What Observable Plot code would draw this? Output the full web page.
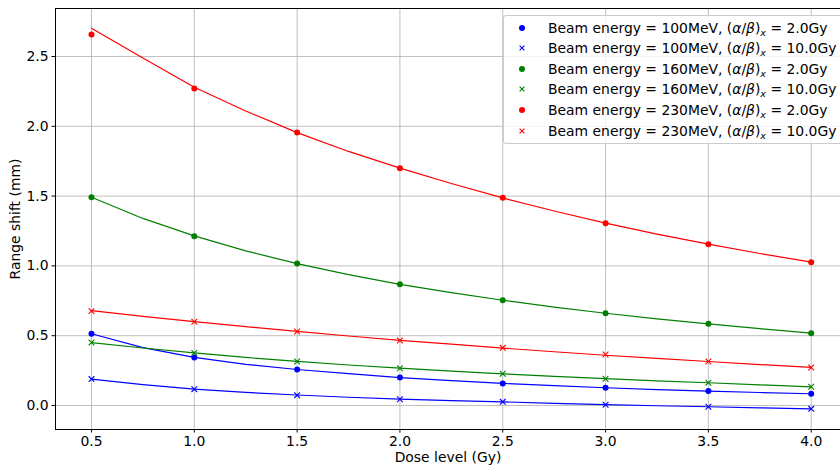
<!DOCTYPE html>
<html><head><meta charset="utf-8">
<script src="https://cdn.jsdelivr.net/npm/d3@7"></script>
<script src="https://cdn.jsdelivr.net/npm/@observablehq/plot@0.6"></script>
<style>
body{margin:0;background:#fff;font-family:"DejaVu Sans",sans-serif;}
#wrap{position:relative;width:840px;height:470px;overflow:hidden;}
#chart{position:absolute;left:0;top:0;}
#legend{position:absolute;left:503px;top:15px;width:345px;height:129px;background:rgba(255,255,255,0.8);border:1px solid #cccccc;border-radius:3px;box-sizing:border-box;font-size:13.9px;color:#000;}
.row{position:absolute;left:0;height:20px;line-height:20px;white-space:nowrap;}
.row svg{position:absolute;left:12px;top:4px;}
.row span.t{position:absolute;left:44px;top:0;}
i{font-style:italic;}
sub{font-size:9.5px;vertical-align:-3px;line-height:0;}
</style>
</head><body>
<div id="wrap"><div id="chart"></div><div id="legend"></div></div>
<script>
// ---- data ----
const doses = [0.5, 1.0, 1.5, 2.0, 2.5, 3.0, 3.5, 4.0];
const fitDoses = [0.5, 0.75, 1.0, 1.25, 1.5, 1.75, 2.0, 2.25, 2.5, 2.75, 3.0, 3.25, 3.5, 3.75, 4.0];

const energies = ["100MeV", "100MeV", "160MeV", "160MeV", "230MeV", "230MeV"];
const alphaBeta = ["2.0Gy", "10.0Gy", "2.0Gy", "10.0Gy", "2.0Gy", "10.0Gy"];
const colors = ["#0000ff", "#0000ff", "#008000", "#008000", "#ff0000", "#ff0000"];
const markers = ["circle", "times", "circle", "times", "circle", "times"];

const pts_100_2  = [0.514, 0.344, 0.258, 0.200, 0.158, 0.127, 0.103, 0.084];
const pts_100_10 = [0.189, 0.117, 0.074, 0.045, 0.026, 0.005, -0.009, -0.024];
const pts_160_2  = [1.492, 1.213, 1.017, 0.869, 0.754, 0.661, 0.585, 0.518];
const pts_160_10 = [0.451, 0.377, 0.315, 0.267, 0.227, 0.191, 0.163, 0.134];
const pts_230_2  = [2.658, 2.271, 1.956, 1.700, 1.488, 1.306, 1.156, 1.027];
const pts_230_10 = [0.676, 0.600, 0.530, 0.466, 0.413, 0.365, 0.315, 0.272];

const fit_100_2  = [0.514, 0.415, 0.345, 0.295, 0.258, 0.228, 0.200, 0.178, 0.158, 0.142, 0.127, 0.114, 0.103, 0.093, 0.084];
const fit_100_10 = [0.189, 0.150, 0.117, 0.094, 0.075, 0.059, 0.046, 0.035, 0.026, 0.015, 0.006, -0.002, -0.009, -0.017, -0.024];
const fit_160_2  = [1.492, 1.340, 1.215, 1.108, 1.016, 0.937, 0.868, 0.808, 0.754, 0.705, 0.661, 0.621, 0.585, 0.550, 0.518];
const fit_160_10 = [0.451, 0.412, 0.377, 0.344, 0.316, 0.290, 0.267, 0.246, 0.227, 0.208, 0.192, 0.177, 0.163, 0.148, 0.134];
const fit_230_2  = [2.703, 2.490, 2.280, 2.110, 1.955, 1.820, 1.700, 1.590, 1.487, 1.393, 1.306, 1.228, 1.156, 1.089, 1.027];
const fit_230_10 = [0.680, 0.638, 0.601, 0.565, 0.531, 0.498, 0.467, 0.439, 0.411, 0.385, 0.360, 0.337, 0.315, 0.293, 0.273];

const pointSeries = [pts_100_2, pts_100_10, pts_160_2, pts_160_10, pts_230_2, pts_230_10];
const fitSeries = [fit_100_2, fit_100_10, fit_160_2, fit_160_10, fit_230_2, fit_230_10];

const xTicks = [0.5, 1.0, 1.5, 2.0, 2.5, 3.0, 3.5, 4.0];
const yTicks = [0.0, 0.5, 1.0, 1.5, 2.0, 2.5];
const xDomain = [0.325, 4.1425];
const yDomain = [-0.172, 2.844];

// ---- tables ----
const points = [], fits = [];
pointSeries.forEach((arr, s) => arr.forEach((v, i) => points.push({s, dose: doses[i], value: v, color: colors[s], marker: markers[s]})));
fitSeries.forEach((arr, s) => arr.forEach((v, i) => fits.push({s, dose: fitDoses[i], value: v, color: colors[s]})));

const gridStyle = {stroke: "#b0b0b0", strokeOpacity: 1, strokeWidth: 0.8};

const chart = Plot.plot({
  width: 840, height: 470,
  marginLeft: 55, marginRight: 0, marginTop: 8, marginBottom: 41,
  style: {fontFamily: "DejaVu Sans, sans-serif", fontSize: "13.9px", color: "#000", background: "#fff", overflow: "visible"},
  x: {domain: xDomain},
  y: {domain: yDomain},
  marks: [
    Plot.gridX(xTicks, gridStyle),
    Plot.gridY(yTicks, gridStyle),
    Plot.line(fits, {x: "dose", y: "value", z: "s", stroke: "color", strokeWidth: 1.2}),
    Plot.dot(points.filter(d => d.marker === "circle"), {x: "dose", y: "value", fill: "color", r: 3, symbol: "circle"}),
    Plot.dot(points.filter(d => d.marker === "times"), {x: "dose", y: "value", stroke: "color", r: 2.7, symbol: "times", strokeWidth: 1.1}),
    Plot.ruleX([xDomain[0]], {stroke: "#000", strokeWidth: 1}),
    Plot.ruleY(yDomain, {stroke: "#000", strokeWidth: 1}),
    Plot.axisX({ticks: xTicks, tickFormat: d3.format(".1f"), tickSize: 3.5, tickPadding: 3.5,
      label: "Dose level (Gy)", labelAnchor: "center", labelArrow: "none", labelOffset: 32}),
    Plot.axisY({ticks: yTicks, tickFormat: d3.format(".1f"), tickSize: 3.5, tickPadding: 3.5,
      label: "Range shift (mm)", labelAnchor: "center", labelArrow: "none", labelOffset: 45})
  ]
});
document.getElementById("chart").appendChild(chart);

// ---- legend ----
const legend = document.getElementById("legend");
energies.forEach((e, s) => {
  const row = document.createElement("div");
  row.className = "row";
  row.style.top = (1.5 + 20.66 * s) + "px";
  const mk = markers[s] === "circle"
    ? `<circle cx="6" cy="6" r="3" fill="${colors[s]}"/>`
    : `<path d="M3.6,3.6L8.4,8.4M3.6,8.4L8.4,3.6" stroke="${colors[s]}" stroke-width="1.1"/>`;
  row.innerHTML = `<svg width="12" height="12">${mk}</svg><span class="t">Beam energy = ${e}, (<i>α</i>/<i>β</i>)<sub><i>x</i></sub> = ${alphaBeta[s]}</span>`;
  legend.appendChild(row);
});
</script>
</body></html>
